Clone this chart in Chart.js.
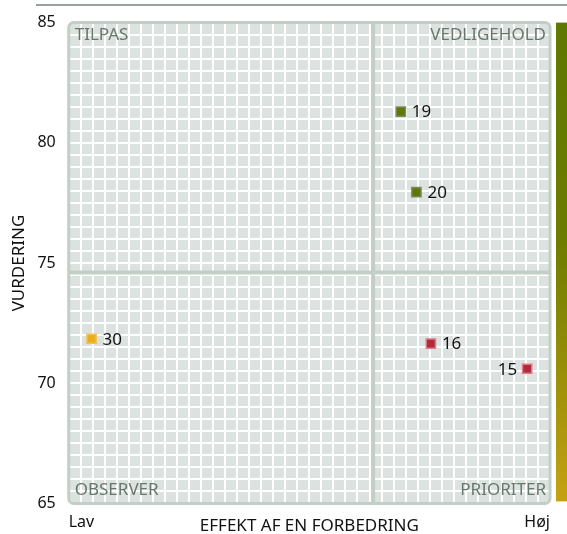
<!DOCTYPE html>
<html>
<head>
<meta charset="utf-8">
<script src="https://cdn.jsdelivr.net/npm/chart.js@4.4.1/dist/chart.umd.min.js"></script>
<style>
  html, body { margin: 0; padding: 0; background: #fff; }
  #wrap { position: relative; width: 567px; height: 534px; }
  #topline { position: absolute; left: 36px; right: 0; top: 4px; height: 2px; background: #9aa09c; }
</style>
</head>
<body>
<div id="wrap">
  <div id="topline"></div>
  <canvas id="chart" width="567" height="534"></canvas>
</div>
<script>
/* ---------- Données ---------- */
const pointLabels = ["19", "20", "30", "16", "15"];
const effectValues = [27.6, 28.9, 1.9, 30.1, 38.1];
const ratingValues = [81.3, 77.95, 71.85, 71.65, 70.6];
const pointColors = ["#5f7800", "#5f7800", "#e8b020", "#b02a3e", "#b02a3e"];
const pointBorders = ["#7a8a60", "#7a8a60", "#f2c24a", "#e07a88", "#e07a88"];
const labelSide = ["right", "right", "right", "right", "left"];
const quadrantNames = ["TILPAS", "VEDLIGEHOLD", "OBSERVER", "PRIORITER"];
const xTickLabels = ["Lav", "Høj"];
const xDivider = 25.3;
const yDivider = 74.6;

const FONT = "'Noto Sans', 'DejaVu Sans', sans-serif";

/* ---------- Fond, quadrants, barre dégradée ---------- */
const matrixPlugin = {
    id: "matrix",
    beforeDraw(chart) {
        const { ctx, chartArea: a } = chart;
        ctx.save();
        ctx.fillStyle = "#dce2df";
        ctx.beginPath();
        ctx.roundRect(a.left, a.top, a.width, a.height, 5);
        ctx.fill();
        ctx.restore();
    },
    beforeDatasetsDraw(chart) {
        const { ctx, chartArea: a, scales } = chart;
        const xm = scales.x.getPixelForValue(xDivider);
        const ym = scales.y.getPixelForValue(yDivider);
        ctx.save();
        ctx.strokeStyle = "#c3cfc6";
        ctx.lineWidth = 4;
        ctx.beginPath();
        ctx.moveTo(xm, a.top); ctx.lineTo(xm, a.bottom);
        ctx.moveTo(a.left, ym); ctx.lineTo(a.right, ym);
        ctx.stroke();
        ctx.lineWidth = 3;
        ctx.beginPath();
        ctx.roundRect(a.left, a.top, a.width, a.height, 5);
        ctx.stroke();

        ctx.fillStyle = "#67776c";
        ctx.font = "17px " + FONT;
        ctx.textBaseline = "middle";
        ctx.textAlign = "left";
        ctx.fillText(quadrantNames[0], a.left + 6, a.top + 13);
        ctx.fillText(quadrantNames[2], a.left + 6, a.bottom - 13);
        ctx.textAlign = "right";
        ctx.fillText(quadrantNames[1], a.right - 4, a.top + 13);
        ctx.fillText(quadrantNames[3], a.right - 4, a.bottom - 13);

        const g = ctx.createLinearGradient(0, a.top, 0, a.bottom);
        g.addColorStop(0, "#5f7800");
        g.addColorStop(0.45, "#6c7c00");
        g.addColorStop(1, "#c6a212");
        ctx.fillStyle = g;
        ctx.fillRect(a.right + 6, a.top, chart.width - a.right - 6, a.height - 2);
        ctx.restore();
    },
    afterDatasetsDraw(chart) {
        const { ctx } = chart;
        const meta = chart.getDatasetMeta(0);
        ctx.save();
        ctx.fillStyle = "#111";
        ctx.font = "17px " + FONT;
        ctx.textBaseline = "middle";
        meta.data.forEach((pt, i) => {
            if (labelSide[i] === "left") {
                ctx.textAlign = "right";
                ctx.fillText(pointLabels[i], pt.x - 10, pt.y + 1);
            } else {
                ctx.textAlign = "left";
                ctx.fillText(pointLabels[i], pt.x + 11, pt.y + 1);
            }
        });
        ctx.restore();
    }
};

new Chart(document.getElementById("chart"), {
    type: "scatter",
    data: {
        datasets: [{
            data: effectValues.map((v, i) => ({ x: v, y: ratingValues[i] })),
            pointStyle: "rect",
            pointRadius: 6.5,
            pointHoverRadius: 6.5,
            pointBackgroundColor: pointColors,
            pointBorderColor: pointBorders,
            pointBorderWidth: 1.5
        }]
    },
    plugins: [matrixPlugin],
    options: {
        responsive: false,
        animation: false,
        layout: { padding: { top: 8, right: 17, left: 0, bottom: -10 } },
        plugins: { legend: { display: false }, tooltip: { enabled: false } },
        scales: {
            x: {
                type: "linear",
                min: 0, max: 40,
                border: { display: false },
                grid: { color: "#ffffff", lineWidth: 2, drawTicks: false },
                ticks: {
                    stepSize: 1,
                    autoSkip: false,
                    maxRotation: 0,
                    align: "inner",
                    padding: 9,
                    color: "#111",
                    font: { family: FONT, size: 16 },
                    callback: v => v === 0 ? xTickLabels[0] : (v === 40 ? xTickLabels[1] : "")
                },
                title: {
                    display: true,
                    text: "EFFEKT AF EN FORBEDRING",
                    color: "#111",
                    padding: { top: -25, bottom: 8 },
                    font: { family: FONT, size: 17 }
                }
            },
            y: {
                min: 65, max: 85,
                border: { display: false },
                grid: { color: "#ffffff", lineWidth: 2, drawTicks: false },
                ticks: {
                    stepSize: 0.5,
                    autoSkip: false,
                    padding: 13,
                    color: "#111",
                    font: { family: FONT, size: 16 },
                    callback: v => v % 5 === 0 ? String(v) : ""
                },
                title: {
                    display: true,
                    text: "VURDERING",
                    color: "#111",
                    padding: { top: 9, bottom: -5 },
                    font: { family: FONT, size: 17 }
                }
            }
        }
    }
});
</script>
</body>
</html>
